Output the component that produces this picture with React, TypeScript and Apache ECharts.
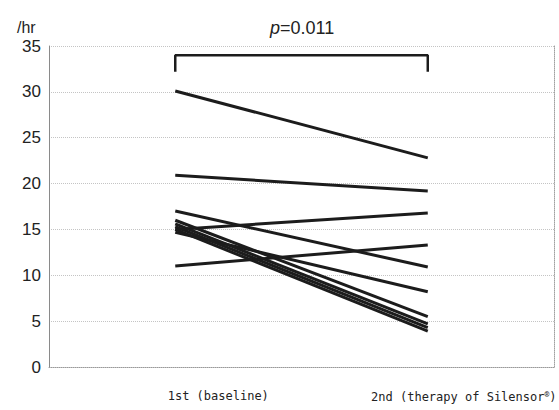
import React, { useEffect, useRef } from "react";
import * as echarts from "echarts";

const categories = ["1st (baseline)", "2nd (therapy of Silensor\u00AE)"];
const baseline = [30.1, 20.9, 17.0, 11.0, 15.0, 14.7, 16.0, 15.6, 15.3, 15.0];
const therapy = [22.8, 19.2, 10.9, 13.3, 16.8, 8.2, 5.5, 4.7, 4.3, 3.9];
const yTicks = { min: 0, max: 35, interval: 5 };
const bracketY = 34;
const bracketFoot = 32.2;
const pValueText = "0.011";
const unitText = "/hr";

export default function App() {
  const ref = useRef<HTMLDivElement>(null);
  useEffect(() => {
    if (!ref.current) return;
    const chart = echarts.init(ref.current, null, { renderer: "svg" });
    const subjectSeries = baseline.map((b, i) => ({
      type: "line",
      data: [b, therapy[i]],
      symbol: "none",
      lineStyle: { color: "#1c1c1c", width: 3 },
      z: 3,
    }));
    const fmt = (v: string, idx: number) => {
      if (idx === 0) return "{a|" + v + "}";
      const k = v.indexOf("\u00AE");
      if (k < 0) return "{b|" + v + "}";
      return "{b|" + v.slice(0, k) + "}{s|\u00AE}{c|" + v.slice(k + 1) + "}";
    };
    chart.setOption({
      animation: false,
      backgroundColor: "#ffffff",
      title: [
        {
          text: unitText,
          left: 12,
          top: 14,
          textStyle: { fontFamily: "Liberation Sans", fontSize: 16, fontWeight: "normal", color: "#222" },
        },
        {
          text: "{i|p}=" + pValueText,
          left: 265,
          top: 14,
          textStyle: {
            fontFamily: "Liberation Sans",
            fontSize: 18,
            fontWeight: "normal",
            color: "#222",
            rich: {
              i: { fontFamily: "Liberation Sans", fontSize: 18, fontStyle: "italic", color: "#222" },
            },
          },
        },
      ],
      grid: { left: 49, right: 3, top: 46, bottom: 43 },
      xAxis: {
        type: "category",
        data: categories,
        boundaryGap: true,
        axisLine: { show: true, lineStyle: { color: "#9a9a9a", type: "dotted", width: 1 } },
        axisTick: { show: false },
        splitLine: { show: false },
        axisLabel: {
          interval: 0,
          hideOverlap: false,
          margin: 23,
          fontFamily: "DejaVu Sans Mono",
          fontSize: 12,
          color: "#222",
          formatter: fmt,
          rich: {
            a: { fontFamily: "DejaVu Sans Mono", fontSize: 12, color: "#222", padding: [0, 0, 0, 86] },
            b: { fontFamily: "DejaVu Sans Mono", fontSize: 12, color: "#222", padding: [0, 0, 0, 72] },
            s: { fontFamily: "DejaVu Sans Mono", fontSize: 8, color: "#222", verticalAlign: "top", padding: [0, 0, 6, 0] },
            c: { fontFamily: "DejaVu Sans Mono", fontSize: 12, color: "#222" },
          },
        },
      },
      yAxis: [
        {
          type: "value",
          min: yTicks.min,
          max: yTicks.max,
          interval: yTicks.interval,
          axisLine: { show: true, lineStyle: { color: "#8a8a8a", width: 1 } },
          axisTick: { show: false },
          axisLabel: {
            margin: 8,
            fontFamily: "Liberation Sans",
            fontSize: 17,
            color: "#222",
          },
          splitLine: { show: true, lineStyle: { color: "#c4c4c4", type: "dotted", width: 1 } },
        },
        {
          type: "value",
          position: "right",
          min: yTicks.min,
          max: yTicks.max,
          interval: yTicks.interval,
          axisLine: { show: true, lineStyle: { color: "#a0a0a0", type: "dotted", width: 1 } },
          axisTick: { show: false },
          axisLabel: { show: false },
          splitLine: { show: false },
        },
      ],
      series: [
        ...subjectSeries,
        {
          type: "line",
          data: [
            [0, bracketFoot],
            [0, bracketY],
            [1, bracketY],
            [1, bracketFoot],
          ],
          symbol: "none",
          lineStyle: { color: "#1c1c1c", width: 2.5 },
          z: 4,
        },
      ],
    });
    return () => chart.dispose();
  }, []);
  return <div ref={ref} style={{ width: 559, height: 410, position: "absolute", left: 0, top: 0 }} />;
}
